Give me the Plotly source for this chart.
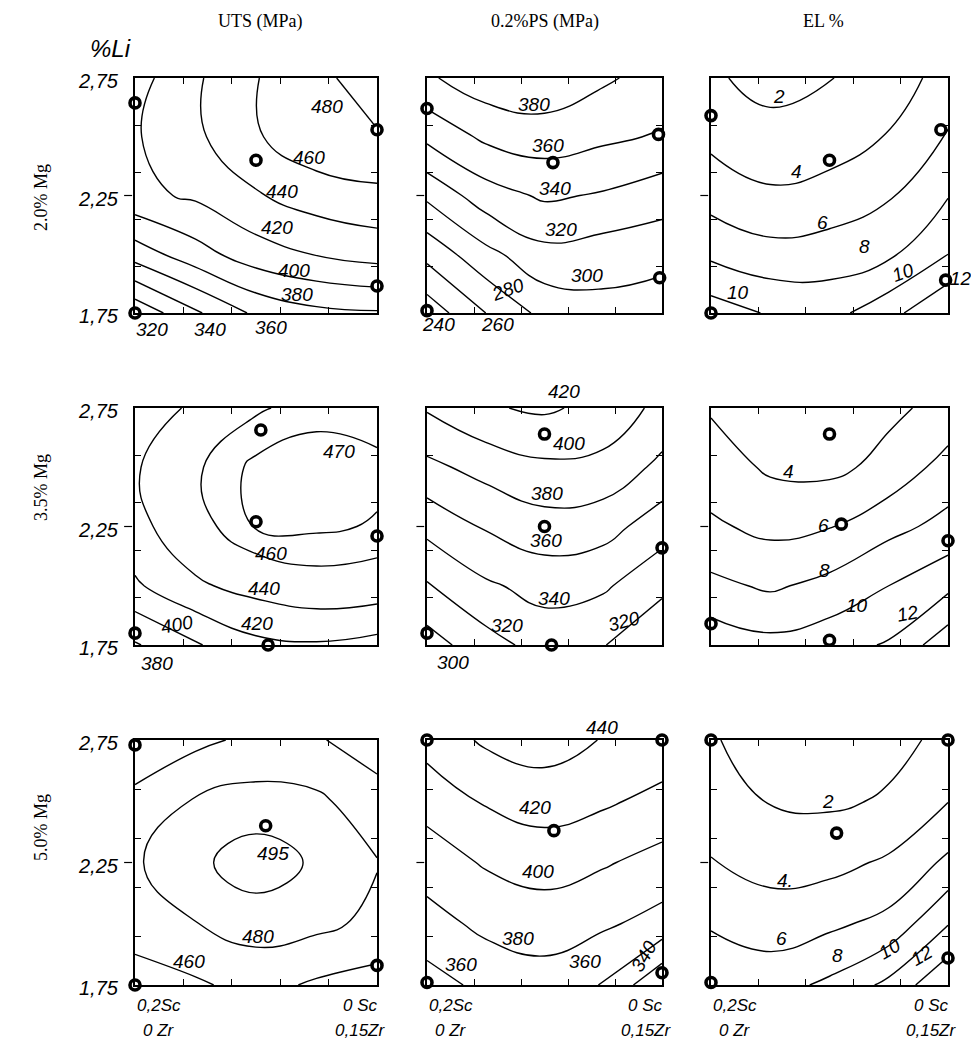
import plotly.graph_objects as go

# ---------------- data ----------------
x_mix = [0.0, 0.25, 0.5, 0.75, 1.0]          # 0 = 0.2Sc/0Zr , 1 = 0Sc/0.15Zr
y_li = [1.75, 2.0, 2.25, 2.5, 2.75]          # %Li

# response grids, rows follow y_li (bottom -> top), columns follow x_mix
uts_2mg = [[305, 337, 364, 375, 378],
           [369, 392, 411, 421, 428],
           [415, 423, 438, 450, 455],
           [418, 436, 458, 474, 479],
           [412, 437, 459, 477, 486]]
ps_2mg = [[228, 260, 286, 293, 288],
          [266, 294, 314, 310, 307],
          [304, 331, 343, 338, 329],
          [345, 364, 370, 364, 358],
          [377, 392, 395, 383, 372]]
el_2mg = [[11.0, 9.8, 9.3, 11.3, 14.0],
          [7.6, 6.7, 7.0, 7.65, 10.0],
          [5.2, 4.3, 4.7, 5.8, 7.9],
          [3.5, 2.7, 3.1, 4.1, 6.2],
          [2.3, 1.3, 1.9, 3.2, 4.6]]
uts_35mg = [[378, 398, 415, 418, 413],
            [417, 437, 447, 454, 452],
            [434, 454, 471, 472, 469],
            [438, 458, 473, 476, 473],
            [430, 443, 458, 466, 464]]
ps_35mg = [[291, 312, 328, 321, 302],
           [318, 337, 347, 343, 325],
           [346, 362, 372, 368, 349],
           [375, 387, 396, 394, 375],
           [402, 418, 423, 414, 394]]
el_35mg = [[11.3, 10.6, 11.2, 12.2, 15.3],
           [8.5, 7.7, 8.6, 10.0, 11.5],
           [6.3, 5.5, 5.9, 7.4, 8.6],
           [5.0, 3.7, 3.5, 4.6, 6.8],
           [3.8, 2.8, 2.9, 3.6, 4.6]]
uts_5mg = [[452, 457, 467, 457, 452],
           [468, 479.5, 488, 485, 475],
           [478, 492, 502, 493, 481],
           [463, 482, 487, 484, 468],
           [452, 455, 465, 462, 450]]
ps_5mg = [[352, 365, 371, 359, 322],
          [372, 385, 390, 383, 373],
          [390, 402, 408, 402, 393],
          [407, 422, 429, 423, 414],
          [428, 443, 449, 439, 433]]
el_5mg = [[7.5, 7.2, 8.4, 10.5, 13.8],
          [5.8, 5.0, 5.6, 6.6, 9.9],
          [4.1, 3.3, 3.4, 4.3, 6.4],
          [3.0, 1.9, 1.7, 2.2, 3.95],
          [2.2, 1.0, 0.9, 1.5, 2.4]]

# contour levels drawn in each panel
lv_uts_2mg = [320, 340, 360, 380, 400, 420, 440, 460, 480]
lv_ps_2mg = [240, 260, 280, 300, 320, 340, 360, 380]
lv_el_2mg = [2, 4, 6, 8, 10, 12]
lv_uts_35mg = [380, 400, 420, 440, 460, 470]
lv_ps_35mg = [300, 320, 340, 360, 380, 400, 420]
lv_el_35mg = [4, 6, 8, 10, 12, 14]
lv_uts_5mg = [460, 480, 495]
lv_ps_5mg = [340, 360, 380, 400, 420, 440]
lv_el_5mg = [2, 4, 6, 8, 10, 12]

# experimental (design) points
pts_uts_2mg = ([0, 1, 0.5, 1, 0], [2.644, 2.53, 2.40, 1.865, 1.75])
pts_ps_2mg = ([0, 0.985, 0.536, 0.99, 0], [2.62, 2.51, 2.39, 1.90, 1.76])
pts_el_2mg = ([0, 0.97, 0.5, 0.99, 0], [2.59, 2.53, 2.40, 1.89, 1.75])
pts_uts_35mg = ([0.52, 0.5, 1, 0, 0.55], [2.657, 2.27, 2.21, 1.80, 1.75])
pts_ps_35mg = ([0.5, 0.5, 1, 0, 0.53], [2.64, 2.25, 2.16, 1.80, 1.75])
pts_el_35mg = ([0.5, 0.55, 1, 0, 0.5], [2.64, 2.26, 2.19, 1.84, 1.77])
pts_uts_5mg = ([0, 0.54, 1, 0], [2.73, 2.40, 1.83, 1.75])
pts_ps_5mg = ([0, 1, 0.54, 1, 0], [2.75, 2.75, 2.38, 1.80, 1.76])
pts_el_5mg = ([0, 1, 0.53, 1, 0], [2.75, 2.75, 2.37, 1.86, 1.76])

# contour value labels (text, x, y, angle)
lab_uts_2mg = [("480", .793, 2.629, 0), ("460", .718, 2.41, 0), ("440", .607, 2.268, 0),
               ("420", .587, 2.112, 0), ("400", .656, 1.93, 0), ("380", .669, 1.83, 0),
               ("320", .07, 1.68, 0), ("340", .31, 1.68, 0), ("360", .56, 1.69, 0)]
lab_ps_2mg = [("380", .457, 2.639, 0), ("360", .514, 2.462, 0), ("340", .543, 2.278, 0),
              ("320", .571, 2.107, 0), ("300", .679, 1.909, 0), ("280", .343, 1.852, -20),
              ("240", .05, 1.70, 0), ("260", .30, 1.70, 0)]
lab_el_2mg = [("2", .289, 2.672, 0), ("4", .359, 2.351, 0), ("6", .472, 2.137, 0),
              ("8", .648, 2.031, 0), ("10", .113, 1.838, 0), ("10", .81, 1.924, -20),
              ("12", 1.055, 1.895, 0)]
lab_uts_35mg = [("470", .844, 2.567, 0), ("460", .561, 2.137, 0), ("440", .534, 1.989, 0),
                ("420", .506, 1.842, 0), ("400", .175, 1.835, -10), ("380", .09, 1.67, 0)]
lab_ps_35mg = [("420", .583, 2.82, 0), ("400", .604, 2.6, 0), ("380", .512, 2.389, 0),
               ("360", .505, 2.192, 0), ("340", .54, 1.947, 0), ("320", .342, 1.834, 0),
               ("320", .837, 1.848, -15), ("300", .11, 1.675, 0)]
lab_el_35mg = [("4", .326, 2.48, 0), ("6", .473, 2.254, 0), ("8", .48, 2.064, 0),
               ("10", .614, 1.916, 0), ("12", .831, 1.881, -10)]
lab_uts_5mg = [("495", .571, 2.285, 0), ("480", .508, 1.946, 0), ("460", .224, 1.845, 0)]
lab_ps_5mg = [("440", .744, 2.80, 0), ("420", .459, 2.473, 0), ("400", .473, 2.214, 0),
              ("380", .387, 1.941, 0), ("360", .145, 1.832, 0), ("360", .672, 1.845, 0),
              ("340", .922, 1.866, -60)]
lab_el_5mg = [("2", .493, 2.498, 0), ("4.", .3125, 2.177, 0), ("6", .299, 1.938, 0),
              ("8", .535, 1.87, 0), ("10", .757, 1.897, -30), ("12", .889, 1.87, -30)]

col_titles = ["UTS (MPa)", "0.2%PS (MPa)", "EL %"]
row_titles = ["2.0% Mg", "3.5% Mg", "5.0% Mg"]
li_ticks = [2.75, 2.25, 1.75]
li_ticktext = ["2,75", "2,25", "1,75"]
x_end_left = ["0,2Sc", "0 Zr"]
x_end_right = ["0 Sc", "0,15Zr"]

panels = [
    (uts_2mg, lv_uts_2mg, pts_uts_2mg, lab_uts_2mg),
    (ps_2mg, lv_ps_2mg, pts_ps_2mg, lab_ps_2mg),
    (el_2mg, lv_el_2mg, pts_el_2mg, lab_el_2mg),
    (uts_35mg, lv_uts_35mg, pts_uts_35mg, lab_uts_35mg),
    (ps_35mg, lv_ps_35mg, pts_ps_35mg, lab_ps_35mg),
    (el_35mg, lv_el_35mg, pts_el_35mg, lab_el_35mg),
    (uts_5mg, lv_uts_5mg, pts_uts_5mg, lab_uts_5mg),
    (ps_5mg, lv_ps_5mg, pts_ps_5mg, lab_ps_5mg),
    (el_5mg, lv_el_5mg, pts_el_5mg, lab_el_5mg),
]

# ---------------- layout geometry ----------------
W, H = 979, 1041
col_px = [(127, 369), (419, 654), (703, 940)]
row_px = [(70, 305), (400, 637), (732, 977)]
col_dom = [[a / W, b / W] for a, b in col_px]
row_dom = [[1 - b / H, 1 - a / H] for a, b in row_px]
Y0, YSPAN = 1.75, 1.0

HAND = "Liberation Sans"
SERIF = "Liberation Serif"

fig = go.Figure()
annotations = []
shapes = []
layout_axes = {}


def ann(text, x, y, xref, yref, size, family=HAND, angle=0, xanchor="center"):
    return dict(text=text, x=x, y=y, xref=xref, yref=yref, showarrow=False,
                textangle=angle, xanchor=xanchor, yanchor="middle",
                font=dict(family=family, size=size, color="black"))


for i, (z, levels, pts, labs) in enumerate(panels):
    r, c = divmod(i, 3)
    n = i + 1
    sfx = "" if n == 1 else str(n)
    xa, ya = "x" + sfx, "y" + sfx
    for L in levels:
        fig.add_trace(go.Contour(
            x=x_mix, y=y_li, z=z, xaxis=xa, yaxis=ya,
            autocontour=False,
            contours=dict(start=L, end=L + 0.001, size=1000, coloring="none", showlabels=False),
            line=dict(color="black", width=1.4, smoothing=1.3),
            showscale=False, hoverinfo="skip"))
    fig.add_trace(go.Scatter(
        x=pts[0], y=pts[1], xaxis=xa, yaxis=ya, mode="markers", cliponaxis=False,
        marker=dict(symbol="circle", size=10, color="white", line=dict(color="black", width=3.6)),
        hoverinfo="skip", showlegend=False))
    layout_axes["xaxis" + sfx] = dict(
        domain=col_dom[c], range=[0, 1], anchor=ya, tickvals=[0.2, 0.4, 0.6, 0.8],
        ticks="inside", ticklen=6, tickwidth=1, tickcolor="black", showticklabels=False,
        showline=True, linecolor="black", linewidth=1.5, mirror="ticks",
        showgrid=False, zeroline=False, fixedrange=True)
    layout_axes["yaxis" + sfx] = dict(
        domain=row_dom[r], range=[1.75, 2.75], anchor=xa, tickvals=[1.95, 2.15, 2.35, 2.55],
        ticks="inside", ticklen=6, tickwidth=1, tickcolor="black", showticklabels=False,
        showline=True, linecolor="black", linewidth=1.5, mirror="ticks",
        showgrid=False, zeroline=False, fixedrange=True)
    # outside dash at 2.25
    shapes.append(dict(type="line", xref=xa + " domain", yref=ya, x0=-0.045, x1=-0.012,
                       y0=2.25, y1=2.25, line=dict(color="black", width=1.2)))
    for (t, lx, ly, ang) in labs:
        annotations.append(ann("<i>" + t + "</i>", lx, (ly - Y0) / YSPAN,
                               xa + " domain", ya + " domain", 19, angle=ang))
    if c == 0:
        for tv, tt in zip(li_ticks, li_ticktext):
            a = ann("<i>" + tt + "</i>", 113 / W, (tv - Y0) / YSPAN, "paper",
                    ya + " domain", 20, xanchor="right")
            a["yshift"] = -3
            annotations.append(a)
    if r == 2:
        for k, (tl, tr) in enumerate(zip(x_end_left, x_end_right)):
            annotations.append(ann("<i>" + tl + "</i>", 0.1, -0.085 - 0.1 * k,
                                   xa + " domain", ya + " domain", 17))
            annotations.append(ann("<i>" + tr + "</i>", 0.93, -0.085 - 0.1 * k,
                                   xa + " domain", ya + " domain", 17))

# column & row titles
col_cx = [252, 537, 815]
for t, cx in zip(col_titles, col_cx):
    annotations.append(ann(t, cx / W, 1 - 13 / H, "paper", "paper", 18, family=SERIF))
row_cy = [190, 480, 820]
for t, cy in zip(row_titles, row_cy):
    annotations.append(ann(t, 33 / W, 1 - cy / H, "paper", "paper", 18, family=SERIF, angle=-90))
annotations.append(ann("<i>%Li</i>", 102 / W, 1 - 40 / H, "paper", "paper", 24))

fig.update_layout(
    width=W, height=H, margin=dict(l=0, r=0, t=0, b=0, pad=0),
    paper_bgcolor="white", plot_bgcolor="white", showlegend=False,
    annotations=annotations, shapes=shapes, **layout_axes)

fig.write_html("out.html")
